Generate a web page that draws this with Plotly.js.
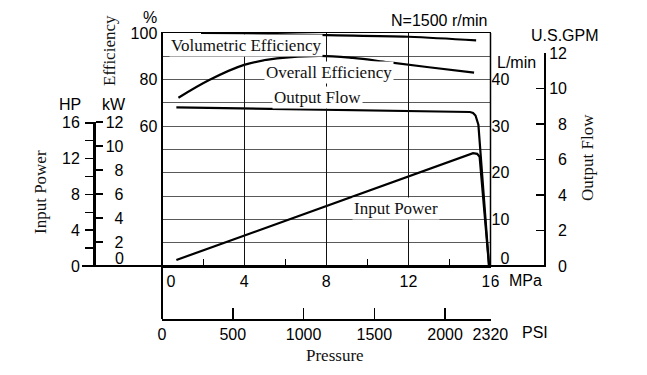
<!DOCTYPE html>
<html><head><meta charset="utf-8">
<script src="https://cdn.plot.ly/plotly-3.0.1.min.js"></script>
<style>html,body{margin:0;padding:0;background:#fff}#chart{width:647px;height:375px}</style>
</head><body><div id="chart"></div>
<script>
// ---- data ----
const volPressure = [1.9, 4, 8, 12, 15.3];                 // MPa
const volEfficiency = [100, 99.8, 99.1, 98.4, 96.8];        // %
const overallPressure = [0.8, 2.3, 4, 5.6, 7.7, 9.3, 11, 13, 15.2];
const overallEfficiency = [72.2, 79.8, 86.3, 89.1, 90.2, 89.3, 87.5, 85.3, 83.0];
const flowPressure = [0.7, 15.0, 15.15, 15.27, 15.41, 15.93];
const outputFlow = [34.05, 33.05, 32.85, 32.3, 30.3, 0];    // L/min
const powerPressure = [0.7, 8, 15.15, 15.35, 15.47, 15.93];
const inputPower = [0.5, 5.0, 9.4, 9.35, 9.1, 0];           // kW

const mpaTicks = [0, 4, 8, 12, 16];
const psiTicks = [0, 500, 1000, 1500, 2000, 2320];
const effTicks = [0, 10, 20, 30, 40, 50, 60, 70, 80, 90, 100];
const effLabels = ['', '', '', '', '', '', '60', '', '80', '', '100'];
const lminTicks = [0, 10, 20, 30, 40];
const kwTicks = [2, 4, 6, 8, 10, 12];
const hpTicks = [0, 2, 4, 6, 8, 10, 12, 14, 16];
const hpLabels = ['0', '', '4', '', '8', '', '12', '', '16'];
const gpmTicks = [0, 2, 4, 6, 8, 10, 12];

// ---- layout helpers ----
const W = 647, H = 375;
const px = x => x / W, py = y => 1 - y / H;
const SANS = 'Liberation Sans, Arial, sans-serif';
const SERIF = 'Liberation Serif, Times New Roman, serif';
const NB = '\u00a0';
const padR = s => (s.length === 1 ? NB + NB + s : s);
const KW_PER_HP = 0.7457, PSI_PER_MPA = 145.04;

const lineStyle = {color: '#000', width: 2.2};
const hidden = {mode: 'none', hoverinfo: 'skip', showlegend: false};
const traces = [
  {x: volPressure, y: volEfficiency, xaxis: 'x', yaxis: 'y', mode: 'lines', line: Object.assign({shape: 'spline'}, lineStyle), hoverinfo: 'skip'},
  {x: overallPressure, y: overallEfficiency, xaxis: 'x', yaxis: 'y', mode: 'lines', line: Object.assign({shape: 'spline', smoothing: 1}, lineStyle), hoverinfo: 'skip'},
  {x: flowPressure, y: outputFlow, xaxis: 'x', yaxis: 'y2', mode: 'lines', line: lineStyle, hoverinfo: 'skip'},
  {x: powerPressure, y: inputPower, xaxis: 'x', yaxis: 'y3', mode: 'lines', line: lineStyle, hoverinfo: 'skip'},
  // empty carriers so the decoration axes exist
  Object.assign({x: [null], y: [null], xaxis: 'x', yaxis: 'y4'}, hidden),
  Object.assign({x: [null], y: [null], xaxis: 'x', yaxis: 'y5'}, hidden),
  Object.assign({x: [null], y: [null], xaxis: 'x2', yaxis: 'y6'}, hidden)
];

const plotL = 162, plotR = 490.5, plotT = 33, plotB = 266;
const sansFont = {family: SANS, size: 16, color: '#000'};
const serifFont = {family: SERIF, size: 17, color: '#111'};

function ann(text, x, y, extra) {
  return Object.assign({text: text, x: px(x), y: py(y), xref: 'paper', yref: 'paper', showarrow: false,
    xanchor: 'center', yanchor: 'middle', font: sansFont}, extra || {});
}
const curveLabel = {font: serifFont, bgcolor: '#fff', borderpad: 1};

const layout = {
  width: W, height: H,
  margin: {l: 0, r: 0, t: 0, b: 0, pad: 0},
  paper_bgcolor: '#fff', plot_bgcolor: 'rgba(0,0,0,0)',
  showlegend: false,
  font: sansFont,
  xaxis: {
    domain: [px(plotL), px(plotR)], range: [0, 16], anchor: 'y',
    tickvals: mpaTicks, ticktext: mpaTicks.map(v => v === 0 ? NB + NB + NB + NB + '0' : String(v)),
    ticks: '', showgrid: true, gridcolor: '#111', gridwidth: 1,
    showline: true, mirror: true, linecolor: '#000', linewidth: 1.5, zeroline: false,
    tickfont: sansFont,
    minor: {tickvals: [2, 6, 10, 14], ticks: 'inside', ticklen: 7, tickcolor: '#000', tickwidth: 1, showgrid: false}
  },
  xaxis2: {
    domain: [px(plotL), px(plotR)], anchor: 'y6', side: 'bottom',
    range: [0, 16 * PSI_PER_MPA], tickvals: psiTicks, ticktext: psiTicks.map(String),
    ticks: 'inside', ticklen: 11, tickwidth: 1.5, tickcolor: '#000',
    showline: true, linecolor: '#000', linewidth: 2, showgrid: false, zeroline: false, tickfont: sansFont
  },
  yaxis6: {
    domain: [py(319), py(300)], anchor: 'x2', range: [0, 1], visible: false, showgrid: false, zeroline: false
  },
  yaxis: {
    domain: [py(plotB), py(plotT)], range: [0, 100], anchor: 'x',
    tickvals: effTicks, ticktext: effLabels, ticks: '',
    showgrid: true, gridcolor: '#5a5a5a', gridwidth: 1,
    showline: true, mirror: false, linecolor: '#000', linewidth: 1.5, zeroline: false, tickfont: sansFont
  },
  yaxis2: {
    overlaying: 'y', side: 'right', anchor: 'x', range: [0, 50],
    tickvals: lminTicks.map(v => v === 0 ? 1.7 : v), ticktext: lminTicks.map(v => padR(String(v))),
    ticks: '', showgrid: false, showline: false, zeroline: false, tickfont: sansFont
  },
  yaxis3: {
    domain: [py(266), py(122)], anchor: 'free', position: px(94), side: 'right', range: [0, 12],
    tickvals: kwTicks, ticktext: kwTicks.map(v => padR(String(v))),
    ticks: 'outside', ticklen: 7, tickwidth: 1.5, tickcolor: '#000',
    showline: true, linecolor: '#000', linewidth: 2.5, showgrid: false, zeroline: false, tickfont: sansFont
  },
  yaxis4: {
    overlaying: 'y3', anchor: 'free', position: px(94), side: 'left', range: [0, 12 / KW_PER_HP],
    tickvals: hpTicks, ticktext: hpLabels, ticklabelstandoff: 2,
    ticks: 'outside', ticklen: 8, tickwidth: 1.5, tickcolor: '#000',
    showline: true, linecolor: '#000', linewidth: 2.5, showgrid: false, zeroline: false, tickfont: sansFont
  },
  yaxis5: {
    domain: [py(266), py(53)], anchor: 'free', position: px(545), side: 'right',
    range: [0, 12], tickvals: gpmTicks, ticktext: gpmTicks.map(v => padR(String(v))),
    ticks: 'inside', ticklen: 8, tickwidth: 1.5, tickcolor: '#000',
    showline: true, linecolor: '#000', linewidth: 2, showgrid: false, zeroline: false, tickfont: sansFont
  },
  shapes: [
    {type: 'line', xref: 'paper', yref: 'paper', x0: px(82), x1: px(546), y0: py(266), y1: py(266), line: {color: '#000', width: 2}},
    {type: 'line', xref: 'paper', yref: 'paper', x0: px(plotL), x1: px(plotL), y0: py(plotT), y1: py(319), line: {color: '#000', width: 2}},
    {type: 'line', xref: 'paper', yref: 'paper', x0: px(plotR), x1: px(plotR), y0: py(plotT), y1: py(plotB), line: {color: '#000', width: 1.5}},
    // keep the gap between the MPa and PSI scales clear on the right-hand side
    {type: 'line', xref: 'paper', yref: 'paper', x0: px(plotR), x1: px(plotR), y0: py(268), y1: py(306), line: {color: '#fff', width: 2}}
  ],
  annotations: [
    ann('%', 150, 17),
    ann('Efficiency', 109, 51, {textangle: -90, font: serifFont}),
    ann('HP', 70, 104),
    ann('kW', 114, 104),
    ann('0', 119, 258),
    ann('Input Power', 40, 192, {textangle: -90, font: serifFont}),
    ann('N=1500 r/min', 439, 20),
    ann('U.S.GPM', 565, 35),
    ann('L/min', 516, 62),
    ann('Output Flow', 587, 158, {textangle: -90, font: serifFont}),
    ann('MPa', 525.5, 280),
    ann('PSI', 535, 332),
    ann('Pressure', 335, 355, {font: serifFont}),
    ann('Volumetric Efficiency', 246, 45, curveLabel),
    ann('Overall Efficiency', 329, 72.5, curveLabel),
    ann('Output Flow', 317, 97.5, curveLabel),
    ann('Input Power', 395.5, 208, curveLabel)
  ]
};

Plotly.newPlot('chart', traces, layout, {staticPlot: true, displayModeBar: false});
</script>
</body></html>
